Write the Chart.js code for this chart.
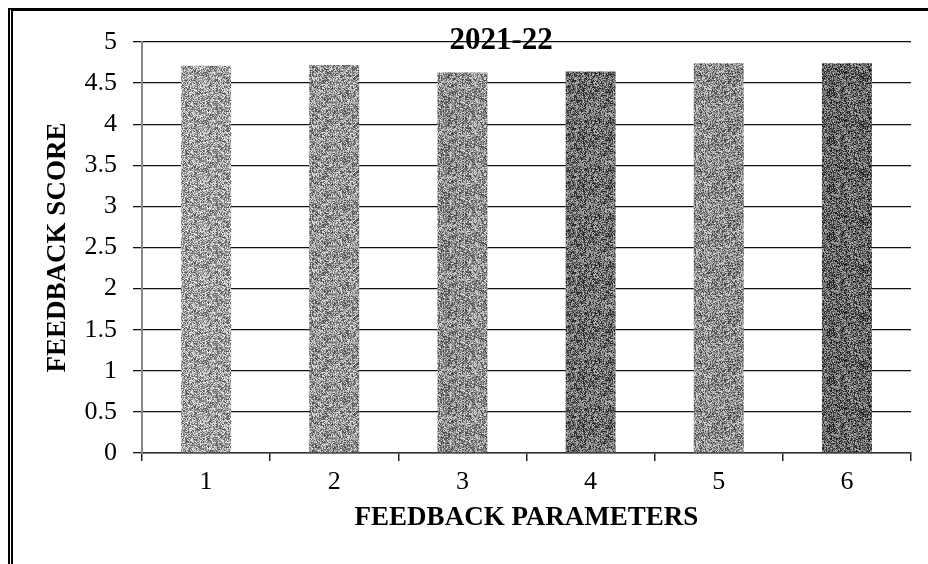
<!DOCTYPE html>
<html>
<head>
<meta charset="utf-8">
<script src="https://cdn.jsdelivr.net/npm/chart.js@4/dist/chart.umd.min.js"></script>
<style>
  html, body { margin: 0; padding: 0; background: #fff; }
  #wrap { position: relative; width: 928px; height: 564px; }
  #chart { position: absolute; left: 0; top: 0; }
  #frame {
    position: absolute; left: 8px; top: 8px; right: 0; bottom: 0;
    border-top: 3px solid #000; border-left: 5px double #000;
    pointer-events: none;
  }
</style>
</head>
<body>
<div id="wrap">
  <canvas id="chart" width="928" height="564"></canvas>
  <div id="frame"></div>
</div>
<script>
const chartTitle = '2021-22';
const categories = ['1', '2', '3', '4', '5', '6'];
const scores = [4.71, 4.72, 4.63, 4.64, 4.74, 4.74];
const barShades = [160, 150, 142, 108, 140, 100];

const serif = "'Liberation Serif', 'Times New Roman', serif";

// speckled grey fill like the scanned bars (deterministic hash, no randomness)
function speckle(shade) {
  const size = 48;
  const c = document.createElement('canvas');
  c.width = size; c.height = size;
  const g = c.getContext('2d');
  const img = g.createImageData(size, size);
  for (let i = 0; i < size * size; i++) {
    let h = Math.sin(i * 12.9898 + shade * 78.233) * 43758.5453;
    h -= Math.floor(h);
    const v = Math.max(0, Math.min(255, Math.round(shade + (h - 0.5) * 170)));
    img.data[i * 4] = v;
    img.data[i * 4 + 1] = v;
    img.data[i * 4 + 2] = v;
    img.data[i * 4 + 3] = 255;
  }
  g.putImageData(img, 0, 0);
  return g.createPattern(c, 'repeat');
}

const titlePlugin = {
  id: 'yearTitle',
  afterDraw(chart) {
    const { ctx, chartArea } = chart;
    ctx.save();
    ctx.font = "bold 31px " + serif;
    ctx.fillStyle = '#000';
    ctx.textAlign = 'center';
    ctx.textBaseline = 'middle';
    ctx.fillText(chartTitle, chartArea.left + (chartArea.right - chartArea.left) * 0.467, chartArea.top - 1);
    ctx.restore();
  }
};

const ctx = document.getElementById('chart').getContext('2d');

new Chart(ctx, {
  type: 'bar',
  data: {
    labels: categories,
    datasets: [
      {
        data: scores,
        backgroundColor: barShades.map(speckle),
        borderWidth: 0,
        barPercentage: 0.39,
        categoryPercentage: 1,
      },
    ],
  },
  options: {
    responsive: false,
    animation: false,
    layout: { padding: { left: 10, top: 42, right: 17, bottom: 0 } },
    plugins: {
      legend: { display: false },
      tooltip: { enabled: false },
      title: { display: false },
    },
    scales: {
      x: {
        afterFit(scale) { scale.height = 111; },
        grid: {
          drawOnChartArea: false,
          drawTicks: true,
          tickLength: 8,
          color: '#222',
          lineWidth: 1.5,
        },
        border: { color: '#333', width: 1.5 },
        ticks: {
          color: '#000',
          padding: 6,
          font: { family: serif, size: 26 },
        },
        title: {
          display: true,
          text: 'FEEDBACK PARAMETERS',
          color: '#000',
          padding: { top: 0, bottom: 30 },
          font: { family: serif, size: 27, weight: 'bold' },
        },
      },
      y: {
        min: 0,
        max: 5,
        afterFit(scale) { scale.width = 132; },
        grid: {
          color: '#111',
          lineWidth: 1.3,
          tickLength: 9,
        },
        border: { color: '#888', width: 2 },
        ticks: {
          stepSize: 0.5,
          color: '#000',
          padding: 16,
          callback: (value) => String(value),
          font: { family: serif, size: 26 },
        },
        title: {
          display: true,
          text: 'FEEDBACK SCORE',
          color: '#000',
          padding: { top: 32, bottom: 0 },
          font: { family: serif, size: 27, weight: 'bold' },
        },
      },
    },
  },
  plugins: [titlePlugin],
});
</script>
</body>
</html>
